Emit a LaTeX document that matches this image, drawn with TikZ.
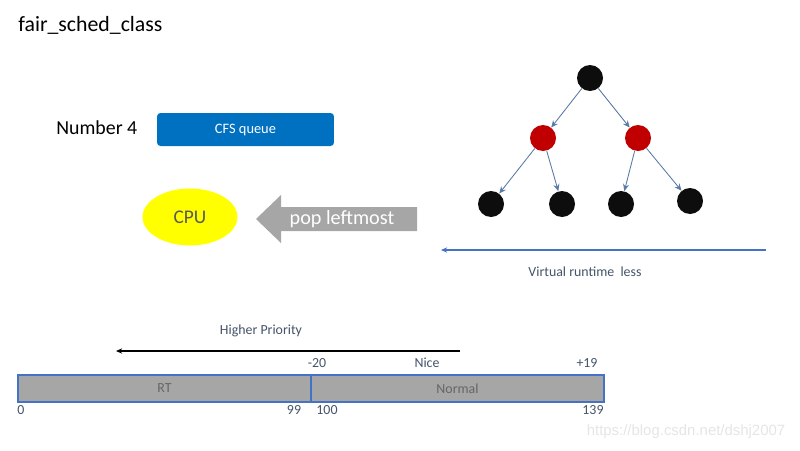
\documentclass[tikz,border=0pt]{standalone}
\usepackage{fontspec}
\setmainfont{Carlito}
\newfontfamily\markfont{Liberation Sans}
\usetikzlibrary{arrows.meta,shapes.geometric}

\definecolor{cfsblue}{HTML}{0070C0}
\definecolor{rbred}{HTML}{C00000}
\definecolor{rbblack}{HTML}{0D0D0D}
\definecolor{edgeblue}{HTML}{5B7BA5}
\definecolor{lineblue}{HTML}{4472C4}
\definecolor{labelgray}{HTML}{44546A}
\definecolor{bargray}{HTML}{A6A6A6}
\definecolor{cpuyellow}{HTML}{FFFF00}

\tikzset{
  rbnode/.style={circle, fill=rbblack, minimum size=0.52cm, inner sep=0pt},
  rbrednode/.style={rbnode, fill=rbred},
  rbedge/.style={draw=edgeblue, line width=0.5pt, -{Stealth[length=4pt,width=3.5pt]}},
  smalllabel/.style={text=labelgray, font=\fontsize{7.9}{9}\selectfont, inner sep=0pt},
  barcell/.style={draw=lineblue, fill=bargray, line width=0.6pt},
}

\begin{document}
\begin{tikzpicture}[x=0.02cm, y=-0.02cm]
  \useasboundingbox (0,0) rectangle (800,450);

  \node[anchor=west, inner sep=0pt, font=\fontsize{12.4}{14}\selectfont] (title) at (18,25) {fair\_sched\_class};
  \node[anchor=west, inner sep=0pt, font=\fontsize{11.3}{13}\selectfont] (number) at (56,128) {Number 4};
  \node[fill=cfsblue, rounded corners=2pt, minimum width=3.54cm, minimum height=0.66cm, text=white,
        font=\fontsize{8.2}{10}\selectfont] (cfs) at (245.5,129.5) {CFS queue};

  \node[ellipse, fill=cpuyellow, minimum width=1.9cm, minimum height=1.14cm, inner sep=0pt,
        text=black!65, font=\fontsize{11}{13}\selectfont] (cpu) at (190,217) {CPU};

  % pop arrow
  \fill[bargray] (256,219) -- (281,195) -- (281,207) -- (417,207) -- (417,231) -- (281,231) -- (281,243) -- cycle;
  \node[text=white, font=\fontsize{11.5}{13}\selectfont] (pop) at (342,219) {pop leftmost};

  % red-black tree
  \node[rbnode] (root) at (590,78) {};
  \node[rbrednode] (left) at (543,138) {};
  \node[rbrednode] (right) at (638,138) {};
  \node[rbnode] (ll) at (491,204) {};
  \node[rbnode] (lr) at (562,204) {};
  \node[rbnode] (rl) at (621,204) {};
  \node[rbnode] (rr) at (690,201) {};
  \draw[rbedge] (root) -- (left);
  \draw[rbedge] (root) -- (right);
  \draw[rbedge] (left) -- (ll);
  \draw[rbedge] (left) -- (lr);
  \draw[rbedge] (right) -- (rl);
  \draw[rbedge] (right) -- (rr);

  \coordinate (vrstart) at (766,250);
  \coordinate (vrend) at (441,250);
  \draw[lineblue, line width=0.6pt, -{Stealth[length=3.5pt,width=3pt]}] (vrstart) -- (vrend);
  \node[smalllabel] (vrlabel) at (585,272) {Virtual runtime\ \ less};

  % priority bar
  \node[smalllabel] (higher) at (261,331) {Higher Priority};
  \coordinate (hpstart) at (460,351);
  \coordinate (hpend) at (116,351);
  \draw[black, line width=0.8pt, -{Stealth[length=3.5pt,width=3pt]}] (hpstart) -- (hpend);

  \node[smalllabel] (nicelow) at (317,363) {-20};
  \node[smalllabel] (nice) at (427,363) {Nice};
  \node[smalllabel] (nicehigh) at (587,363) {+19};

  \draw[barcell] (18,375) rectangle (311,402) node[midway, smalllabel, text=black!60] (rt) {RT};
  \draw[barcell] (311,375) rectangle (604,402) node[midway, smalllabel, text=black!60] (normal) {Normal};

  \node[smalllabel] (p0) at (21,410) {0};
  \node[smalllabel] (p99) at (294,410) {99};
  \node[smalllabel] (p100) at (327,410) {100};
  \node[smalllabel] (p139) at (593,410) {139};

  \node[text=black!10, font=\markfont\fontsize{8.5}{10}\selectfont, inner sep=0pt] (mark) at (686,432) {https://blog.csdn.net/dshj2007};
\end{tikzpicture}
\end{document}
